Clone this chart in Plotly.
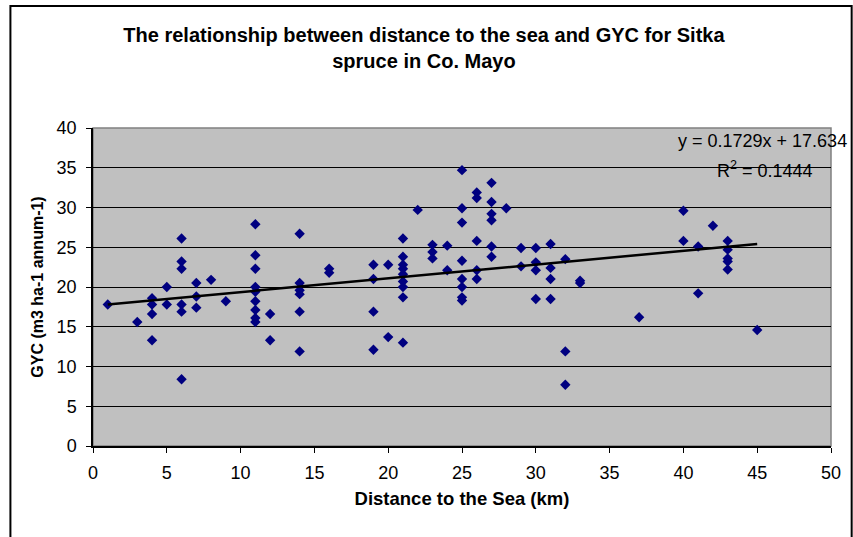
import plotly.graph_objects as go

# Distance to the sea (km) and GYC (m3 ha-1 annum-1)
distance = [1, 3, 4, 4, 4, 4, 5, 5,
            6, 6, 6, 6, 6, 6, 7, 7, 7, 8, 9,
            11, 11, 11, 11, 11, 11, 11, 11, 11, 12, 12,
            14, 14, 14, 14, 14, 14, 16, 16,
            19, 19, 19, 19, 20, 20,
            21, 21, 21, 21, 21, 21, 21, 21, 21, 22,
            23, 23, 23, 24, 24,
            25, 25, 25, 25, 25, 25, 25, 25,
            26, 26, 26, 26, 26,
            27, 27, 27, 27, 27, 27, 28,
            29, 29, 30, 30, 30, 30,
            31, 31, 31, 31, 32, 32, 32, 33, 33,
            37, 40, 40, 41, 41, 42, 43, 43, 43, 43, 43, 45]
gyc = [17.8, 15.6, 18.6, 17.8, 16.6, 13.3, 20.0, 17.8,
       26.1, 23.2, 22.3, 17.8, 16.9, 8.4, 20.5, 18.8, 17.4, 20.9, 18.2,
       27.9, 24.0, 22.3, 20.0, 19.4, 18.2, 17.1, 16.1, 15.6, 16.6, 13.3,
       26.7, 20.5, 19.6, 19.1, 16.9, 11.9, 22.3, 21.8,
       22.8, 21.0, 16.9, 12.1, 22.8, 13.7,
       26.1, 23.8, 22.8, 22.3, 21.6, 20.7, 20.0, 18.7, 13.0, 29.7,
       25.3, 24.4, 23.6, 25.2, 22.1,
       34.7, 29.9, 28.1, 23.3, 21.0, 20.0, 18.7, 18.3,
       31.9, 31.2, 25.8, 22.1, 21.0,
       33.1, 30.7, 29.2, 28.4, 25.1, 23.8, 29.9,
       24.9, 22.6, 24.9, 23.1, 22.1, 18.5,
       25.4, 22.4, 21.0, 18.5, 23.5, 11.9, 7.7, 20.8, 20.5,
       16.2, 29.6, 25.8, 25.1, 19.2, 27.7, 25.8, 24.7, 23.6, 23.2, 22.2, 14.6]

# linear trendline as reported on the chart
slope = 0.1729
intercept = 17.634
r_squared = 0.1444

x_ticks = [0, 5, 10, 15, 20, 25, 30, 35, 40, 45, 50]
y_ticks = [0, 5, 10, 15, 20, 25, 30, 35, 40]

fnt = "Arial, Liberation Sans, sans-serif"

fig = go.Figure()

fig.add_trace(go.Scatter(
    x=distance, y=gyc,
    mode='markers',
    marker=dict(symbol='diamond', size=8, color='#000080'),
    showlegend=False,
    hoverinfo='x+y'
))

trend_x = [min(distance), max(distance)]
trend_y = [slope * v + intercept for v in trend_x]
fig.add_trace(go.Scatter(
    x=trend_x, y=trend_y,
    mode='lines',
    line=dict(color='black', width=2.5),
    showlegend=False,
    hoverinfo='skip'
))

# trendline label (paper coords so it can sit past the right edge)
fig.add_annotation(x=1.024, y=0.959, xref='paper', yref='paper',
                   xanchor='right', yanchor='middle',
                   text=f"y = {slope}x + {intercept}", showarrow=False,
                   font=dict(family=fnt, size=18, color='black'))
fig.add_annotation(x=0.978, y=0.871, xref='paper', yref='paper',
                   xanchor='right', yanchor='middle',
                   text=f"R<sup>2</sup> = {r_squared}", showarrow=False,
                   font=dict(family=fnt, size=18, color='black'))

# outer chart frame
fig.add_shape(type='rect', xref='paper', yref='paper',
              x0=-0.1119, x1=1.028, y0=-0.311, y1=1.3836,
              line=dict(color='black', width=2), layer='below')
# plot area border
fig.add_shape(type='rect', xref='paper', yref='paper',
              x0=0, x1=1, y0=0, y1=1,
              line=dict(color='#808080', width=1.5), layer='below')

fig.update_layout(
    width=853, height=537,
    margin=dict(l=93, r=14, t=128, b=91),
    paper_bgcolor='white',
    plot_bgcolor='#C0C0C0',
    font=dict(family=fnt, color='black', size=18),
    title=dict(
        text="<b>The relationship between distance to the sea and GYC for Sitka<br>spruce in Co. Mayo</b>",
        x=0.497, xref='container', xanchor='center',
        y=0.922, yanchor='middle',
        font=dict(family=fnt, size=20, color='black')
    ),
    xaxis=dict(
        range=[0, 50], tickvals=x_ticks, showgrid=False, zeroline=False,
        showline=True, linecolor='black', linewidth=1.5,
        ticks='outside', ticklen=5, tickcolor='black',
        tickfont=dict(size=18), ticklabelstandoff=5,
        title=dict(text="<b>Distance to the Sea (km)</b>", font=dict(size=18.5), standoff=10)
    ),
    yaxis=dict(
        range=[0, 40], tickvals=y_ticks, showgrid=True, gridcolor='black', gridwidth=1,
        zeroline=False, showline=True, linecolor='black', linewidth=1.5,
        ticks='outside', ticklen=5, tickcolor='black',
        tickfont=dict(size=18), ticklabelstandoff=6,
        title=dict(text="<b>GYC (m3 ha-1 annum-1)</b>", font=dict(size=16), standoff=9)
    )
)

# drop the default 8px body margin so the 853x537 figure fills the window exactly
fig.write_html("out.html", config={'displayModeBar': False},
               post_script="document.body.style.margin='0px';")
